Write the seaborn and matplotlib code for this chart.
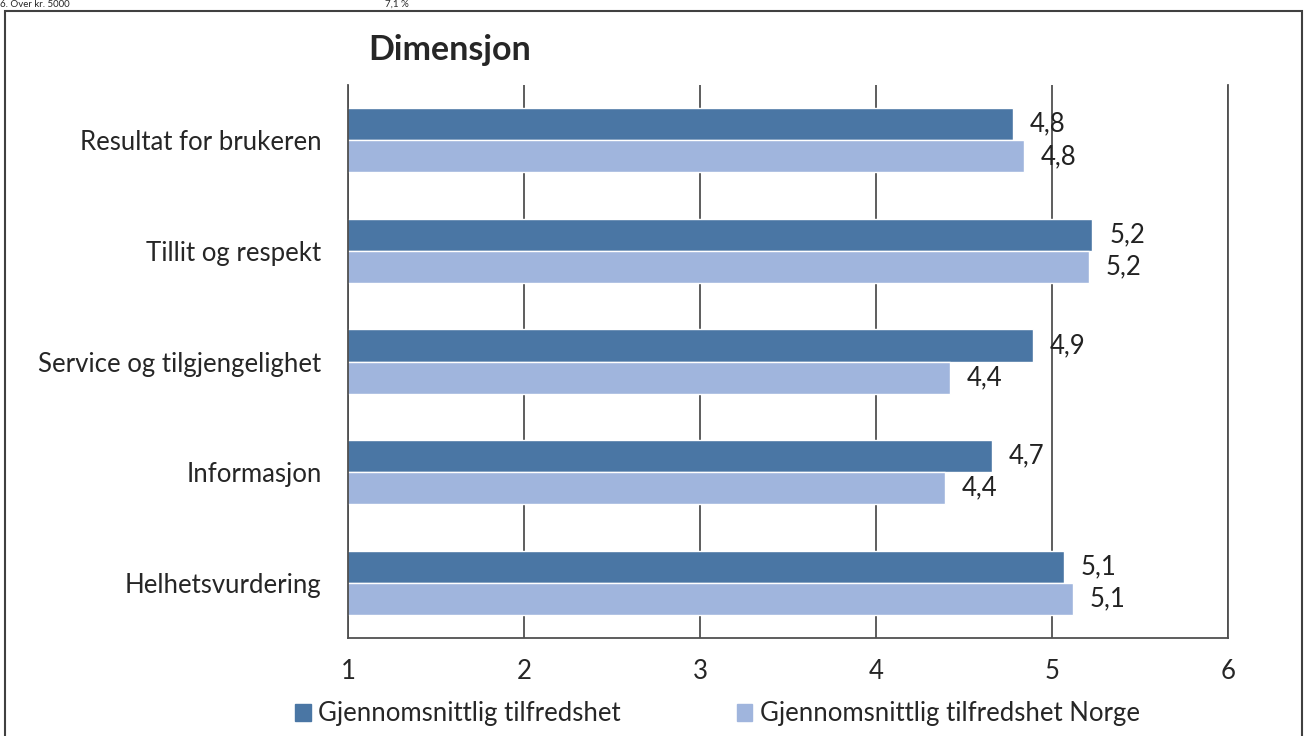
import matplotlib
matplotlib.use("Agg")
import matplotlib.pyplot as plt
import matplotlib.patches as mpatches
import seaborn as sns
import pandas as pd

# ---- data ----
categories = ["Resultat for brukeren", "Tillit og respekt", "Service og tilgjengelighet",
              "Informasjon", "Helhetsvurdering"]
series_names = ["Gjennomsnittlig tilfredshet", "Gjennomsnittlig tilfredshet Norge"]
snitt = [4.78, 5.23, 4.89, 4.66, 5.07]
snitt_norge = [4.84, 5.21, 4.42, 4.39, 5.12]
x_ticks = [1, 2, 3, 4, 5, 6]
colors = ["#4A76A4", "#A0B5DD"]

df = pd.DataFrame({
    "Dimensjon": categories * 2,
    "Verdi": snitt + snitt_norge,
    "Serie": [series_names[0]] * len(categories) + [series_names[1]] * len(categories),
})

sns.set_style("white")
plt.rcParams["font.family"] = ["Lato", "DejaVu Sans"]

fig = plt.figure(figsize=(13.08, 7.36), dpi=100)
ax = fig.add_axes([348 / 1308, 1 - 638 / 736, 880 / 1308, 553 / 736])

sns.barplot(data=df, y="Dimensjon", x="Verdi", hue="Serie", order=categories,
            hue_order=series_names, palette=colors, orient="h", width=0.58,
            saturation=1, ax=ax, legend=False)

for cont in ax.containers:
    labels = [f"{bar.get_width() + bar.get_x():.1f}".replace(".", ",") for bar in cont]
    ax.bar_label(cont, labels=labels, padding=12, fontsize=18.5, color="#222222")

ax.set_xlim(1, 6)
ax.set_xticks(x_ticks)
ax.set_ylim(4.5, -0.5)
ax.set_xlabel("")
ax.set_ylabel("")
ax.grid(axis="x", color="#505050", linewidth=1.3)
ax.grid(axis="y", visible=False)
ax.set_axisbelow(True)
for side in ["left", "bottom", "right"]:
    ax.spines[side].set_visible(True)
    ax.spines[side].set_color("#505050")
    ax.spines[side].set_linewidth(1.3)
ax.spines["top"].set_visible(False)
ax.tick_params(axis="x", length=0, pad=15, labelsize=18.5)
ax.tick_params(axis="y", length=0, pad=19, labelsize=18.5)

fig.text(368 / 1308, 1 - 50 / 736, "Dimensjon", fontsize=24.5, fontweight="bold",
         va="center", ha="left")

handles = [mpatches.Patch(color=c, label=n) for c, n in zip(colors, series_names)]
fig.legend(handles=handles, loc="center left", bbox_to_anchor=(272 / 1308, 1 - 714 / 736),
           ncol=2, frameon=False, fontsize=18.5, handlelength=0.6, handleheight=0.6,
           handletextpad=0.3, columnspacing=4.5)

# scan leftovers: text from the page above and the frame around the chart
fig.text(0.0, 1.0, "6. Over kr. 5000", fontsize=7, va="top", ha="left")
fig.text(385 / 1308, 1.0, "7,1 %", fontsize=7, va="top", ha="left")
fig.add_artist(mpatches.Rectangle((5 / 1308, -0.01), 1297 / 1308, 1 - 11 / 736 + 0.01,
                                  transform=fig.transFigure, fill=False,
                                  edgecolor="#404040", linewidth=1.5))

fig.savefig("out.png", dpi=100)
